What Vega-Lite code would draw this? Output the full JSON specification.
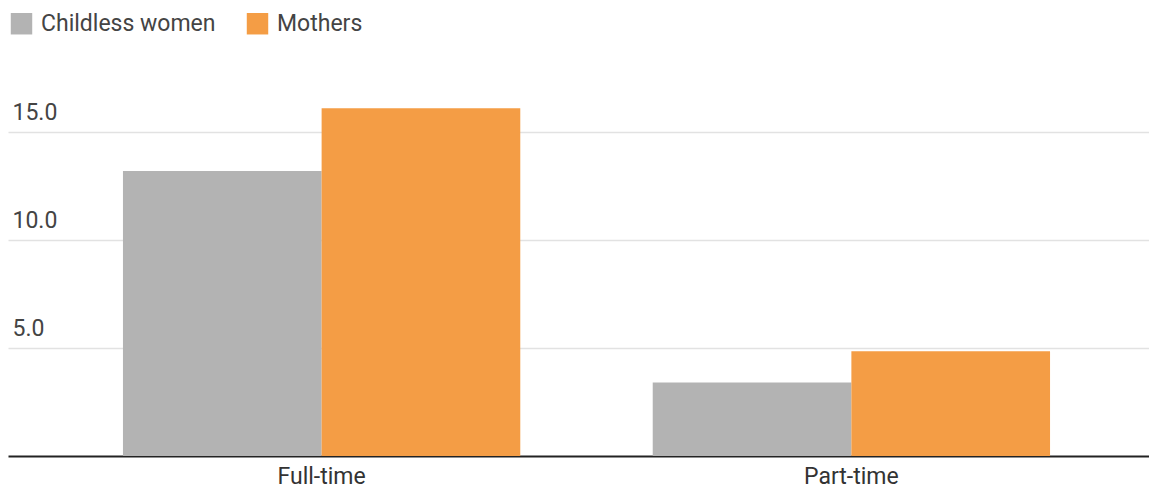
{
  "$schema": "https://vega.github.io/schema/vega-lite/v6.json",
  "autosize": {"type": "none"},
  "width": 1141,
  "height": 378,
  "padding": {"left": 8, "top": 78, "right": 0, "bottom": 34},
  "background": "white",
  "config": {
    "font": "Roboto",
    "view": {"stroke": null}
  },
  "data": {
    "values": [
      {"type": "Full-time", "group": "Childless women", "value": 13.2},
      {"type": "Full-time", "group": "Mothers", "value": 16.1},
      {"type": "Part-time", "group": "Childless women", "value": 3.4},
      {"type": "Part-time", "group": "Mothers", "value": 4.85}
    ]
  },
  "mark": {"type": "bar"},
  "encoding": {
    "x": {
      "field": "type",
      "type": "nominal",
      "scale": {"paddingInner": 0.25, "paddingOuter": 0.217, "range": [0, 1157]},
      "axis": {
        "title": null,
        "labelAngle": 0,
        "labelFontSize": 23,
        "labelColor": "#333333",
        "labelPadding": 9,
        "ticks": false,
        "domain": true,
        "domainColor": "#222222",
        "domainWidth": 2,
        "grid": false
      }
    },
    "xOffset": {
      "field": "group",
      "type": "nominal",
      "scale": {"paddingInner": 0, "paddingOuter": 0}
    },
    "y": {
      "field": "value",
      "type": "quantitative",
      "scale": {"domain": [0, 17.5], "nice": false},
      "axis": {
        "title": null,
        "values": [5, 10, 15],
        "format": ".1f",
        "domain": false,
        "ticks": false,
        "grid": true,
        "gridColor": "#e2e2e2",
        "gridWidth": 1.5,
        "labelAlign": "left",
        "labelBaseline": "alphabetic",
        "labelPadding": -4,
        "labelOffset": -13,
        "labelFontSize": 23,
        "labelColor": "#444444"
      }
    },
    "color": {
      "field": "group",
      "type": "nominal",
      "scale": {"domain": ["Childless women", "Mothers"], "range": ["#b3b3b3", "#f49d45"]},
      "legend": {
        "title": null,
        "orient": "none",
        "legendX": 2,
        "legendY": -66,
        "direction": "horizontal",
        "symbolType": "square",
        "symbolSize": 460,
        "symbolStrokeWidth": 0,
        "symbolOpacity": 1,
        "labelFontSize": 23,
        "labelLimit": 500,
        "labelColor": "#444444",
        "labelOffset": 8,
        "columnPadding": 30
      }
    }
  }
}
